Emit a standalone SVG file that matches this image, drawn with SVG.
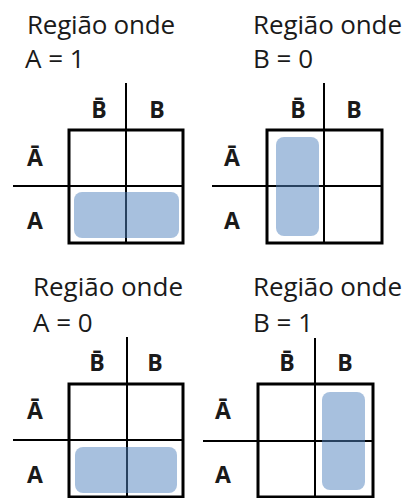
<svg xmlns="http://www.w3.org/2000/svg" width="404" height="498" viewBox="0 0 404 498">
<style>
.t{font-family:"Open Sans","Noto Sans",sans-serif;font-size:26px;fill:#1a1a1a}
.l{font-family:"Open Sans","Noto Sans",sans-serif;font-size:23px;font-weight:bold;fill:#1a1a1a;text-anchor:middle}
.box{fill:none;stroke:#000;stroke-width:3}
.ln{fill:none;stroke:#000;stroke-width:2}
.hl{fill:#4f81bd;fill-opacity:0.5}
</style>
<rect width="404" height="498" fill="#fff"/>
<g id="q1">
<text class="t" x="27" y="34" textLength="148">Região onde</text>
<text class="t" x="25" y="68">A = 1</text>
<rect class="box" x="69" y="130" width="114" height="113"/>
<line class="ln" x1="126" y1="83" x2="126" y2="243"/>
<line class="ln" x1="13" y1="186" x2="183" y2="186"/>
<text class="l" x="99" y="118">B&#x304;</text>
<text class="l" x="157" y="118">B</text>
<text class="l" x="35" y="166">Ā</text>
<text class="l" x="35" y="229">A</text>
<rect class="hl" x="74" y="192" width="105" height="46" rx="8"/>
</g>
<g id="q2">
<text class="t" x="253" y="34" textLength="149">Região onde</text>
<text class="t" x="253" y="68">B = 0</text>
<rect class="box" x="267" y="130" width="115" height="113"/>
<line class="ln" x1="324" y1="83" x2="324" y2="243"/>
<line class="ln" x1="212" y1="186" x2="382" y2="186"/>
<text class="l" x="298" y="118">B&#x304;</text>
<text class="l" x="354" y="118">B</text>
<text class="l" x="232" y="166">Ā</text>
<text class="l" x="232" y="229">A</text>
<rect class="hl" x="276" y="137" width="43" height="99" rx="8"/>
</g>
<g id="q3">
<text class="t" x="33" y="296" textLength="150">Região onde</text>
<text class="t" x="33" y="332">A = 0</text>
<rect class="box" x="69" y="384" width="114" height="113"/>
<line class="ln" x1="127" y1="337" x2="127" y2="497"/>
<line class="ln" x1="13" y1="440" x2="183" y2="440"/>
<text class="l" x="97" y="371">B&#x304;</text>
<text class="l" x="155" y="371">B</text>
<text class="l" x="35" y="419">Ā</text>
<text class="l" x="35" y="483">A</text>
<rect class="hl" x="75" y="447" width="102" height="46" rx="8"/>
</g>
<g id="q4">
<text class="t" x="253" y="296" textLength="149">Região onde</text>
<text class="t" x="253" y="332">B = 1</text>
<rect class="box" x="258" y="384" width="115" height="113"/>
<line class="ln" x1="315" y1="338" x2="315" y2="497"/>
<line class="ln" x1="203" y1="441" x2="373" y2="441"/>
<text class="l" x="287" y="371">B&#x304;</text>
<text class="l" x="345" y="371">B</text>
<text class="l" x="223" y="419">Ā</text>
<text class="l" x="223" y="483">A</text>
<rect class="hl" x="322" y="392" width="43" height="98" rx="8"/>
</g>
<g id="connectors"></g>
</svg>
